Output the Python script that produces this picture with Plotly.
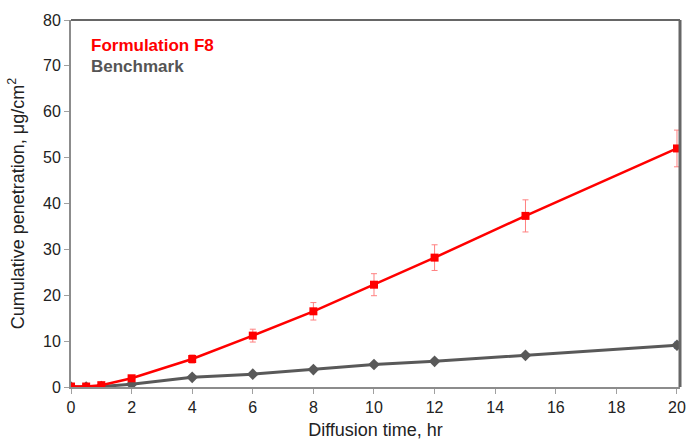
import plotly.graph_objects as go

time_hr = [0, 0.5, 1, 2, 4, 6, 8, 10, 12, 15, 20]
f8_values = [0.1, 0.1, 0.4, 1.9, 6.1, 11.2, 16.5, 22.3, 28.2, 37.3, 52.0]
f8_errors = [0.2, 0.2, 0.3, 0.5, 0.9, 1.4, 1.9, 2.4, 2.8, 3.5, 4.0]
bench_values = [0.0, 0.0, 0.1, 0.6, 2.1, 2.8, 3.8, 4.9, 5.6, 6.9, 9.1]
bench_errors = [0.05, 0.05, 0.1, 0.2, 0.3, 0.3, 0.3, 0.3, 0.3, 0.4, 0.7]
x_ticks = list(range(0, 21, 2))
y_ticks = list(range(0, 81, 10))

fig = go.Figure()
fig.add_trace(go.Scatter(
    x=time_hr, y=bench_values, mode="lines+markers", name="Benchmark",
    line=dict(color="#595959", width=3),
    marker=dict(symbol="diamond", size=9, color="#595959"),
    error_y=dict(type="data", array=bench_errors, color="#6b8fd6", thickness=1, width=3),
))
fig.add_trace(go.Scatter(
    x=time_hr, y=f8_values, mode="lines+markers", name="Formulation F8",
    line=dict(color="#ff0000", width=2.5),
    marker=dict(symbol="square", size=8, color="#ff0000"),
    error_y=dict(type="data", array=f8_errors, color="#ff8080", thickness=1, width=3),
))

font_family = "Liberation Sans, Arial, sans-serif"
fig.update_layout(
    width=687, height=441,
    margin=dict(l=71, r=7, t=20, b=54),
    paper_bgcolor="white", plot_bgcolor="white",
    showlegend=False,
    font=dict(family=font_family, size=15, color="#222222"),
    xaxis=dict(
        range=[0, 20.1], tickvals=x_ticks, showgrid=False, zeroline=False,
        showline=True, linecolor="#8c8c8c", linewidth=2, automargin=False,
        ticks="outside", ticklen=5, tickcolor="#a0a0a0",
        tickfont=dict(size=16),
        title=dict(text="Diffusion time, hr", standoff=8),
    ),
    yaxis=dict(
        range=[0, 80], tickvals=y_ticks, showgrid=False, zeroline=False,
        showline=True, linecolor="#8c8c8c", linewidth=2, automargin=False,
        ticks="outside", ticklen=5, tickcolor="#a0a0a0",
        tickfont=dict(size=16),
        title=dict(text="Cumulative penetration, μg/cm<sup>2</sup>", standoff=14),
    ),
    shapes=[
        dict(type="line", xref="paper", yref="paper", x0=0, x1=1, y0=1, y1=1,
             line=dict(color="#333333", width=1.5)),
        dict(type="line", xref="paper", yref="paper", x0=1, x1=1, y0=0, y1=1,
             line=dict(color="#666666", width=3)),
    ],
    annotations=[
        dict(text="<b>Formulation F8</b>", xref="paper", yref="paper", x=0.03, y=0.93,
             xanchor="left", yanchor="middle", showarrow=False,
             font=dict(size=17, color="#ff0000", family=font_family)),
        dict(text="<b>Benchmark</b>", xref="paper", yref="paper", x=0.03, y=0.872,
             xanchor="left", yanchor="middle", showarrow=False,
             font=dict(size=17, color="#555555", family=font_family)),
    ],
)

fig.write_html("out.html")
